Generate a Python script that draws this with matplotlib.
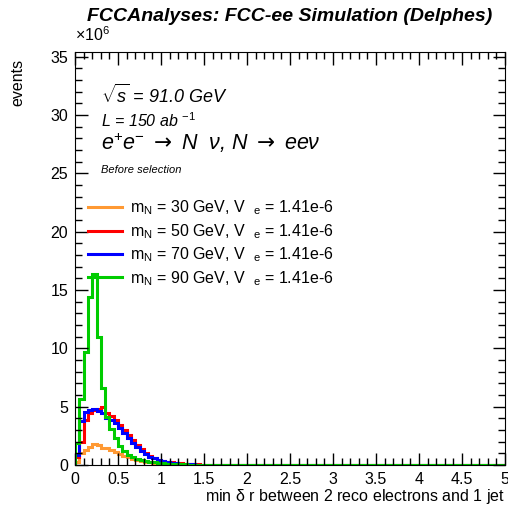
import matplotlib
matplotlib.use("Agg")
import matplotlib.pyplot as plt
from matplotlib.lines import Line2D
from matplotlib import ticker
import numpy as np

plt.rcParams["font.family"] = ["Liberation Sans", "DejaVu Sans"]
plt.rcParams["mathtext.fontset"] = "custom"
plt.rcParams["mathtext.rm"] = "Liberation Sans"
plt.rcParams["mathtext.it"] = "Liberation Sans:italic"
plt.rcParams["mathtext.bf"] = "Liberation Sans:bold"
plt.rcParams["mathtext.sf"] = "DejaVu Sans"

# binning: 100 bins of 0.05 between 0 and 5
bin_edges = np.linspace(0, 5, 101)

# events per bin (x 1e6); remaining bins ~0
m30 = [0.3, 1.0, 1.3, 1.57, 1.77, 1.71, 1.5, 1.43, 1.29, 1.14,
       0.91, 0.8, 0.66, 0.51, 0.43, 0.34, 0.29, 0.23, 0.17, 0.14,
       0.12, 0.1, 0.08, 0.07, 0.06, 0.05, 0.05, 0.04, 0.04, 0.03,
       0.03, 0.02, 0.02, 0.02, 0.01, 0.01, 0.01]
m50 = [0.7, 2.0, 3.9, 4.45, 4.7, 4.8, 4.95, 4.5, 4.2, 3.86,
       3.43, 3.0, 2.57, 2.14, 1.71, 1.34, 1.0, 0.77, 0.57, 0.43,
       0.34, 0.28, 0.22, 0.18, 0.14, 0.11, 0.08, 0.06, 0.05, 0.04,
       0.03, 0.02, 0.02, 0.01]
m70 = [0.86, 3.8, 4.55, 4.7, 4.8, 4.6, 4.45, 4.05, 3.86, 3.6,
       3.17, 2.74, 2.34, 1.89, 1.57, 1.2, 0.94, 0.71, 0.57, 0.43,
       0.34, 0.26, 0.2, 0.16, 0.12, 0.09, 0.07, 0.05, 0.04, 0.03,
       0.02, 0.02, 0.01]
m90 = [1.9, 5.7, 9.7, 14.4, 16.4, 11.0, 6.6, 4.1, 3.1, 2.3,
       1.6, 1.2, 0.9, 0.7, 0.55, 0.45, 0.38, 0.3, 0.25, 0.2,
       0.15, 0.12, 0.1, 0.08, 0.06, 0.05, 0.04, 0.03, 0.02, 0.02,
       0.01, 0.01]

masses = [30, 50, 70, 90]
series = [m30, m50, m70, m90]
colours = ["#ff9933", "#ff0000", "#0000ff", "#00cc00"]
coupling = "1.41e-6"


def pad(vals):
    out = np.zeros(len(bin_edges) - 1)
    out[: len(vals)] = vals
    return out


fig = plt.figure(figsize=(5.08, 5.15), dpi=100)
ax = fig.add_axes([75 / 508, 50 / 515, 430 / 508, 413 / 515])

handles = []
for m, vals, c in zip(masses, series, colours):
    ax.stairs(pad(vals), bin_edges, color=c, linewidth=2.2)
    handles.append(Line2D([], [], color=c, linewidth=2.2,
                          label=r"m$_{\rm N}$ = %d GeV, V  $_{\rm e}$ = %s" % (m, coupling)))

ax.set_xlim(0, 5)
ax.set_ylim(0, 35.4)
ax.xaxis.set_major_locator(ticker.MultipleLocator(0.5))
ax.xaxis.set_minor_locator(ticker.MultipleLocator(0.1))
ax.yaxis.set_major_locator(ticker.MultipleLocator(5))
ax.yaxis.set_minor_locator(ticker.MultipleLocator(1))
ax.xaxis.set_major_formatter(ticker.FuncFormatter(lambda v, p: "%g" % v))
ax.tick_params(which="both", direction="in", top=True, right=True, labelsize=11.5, pad=5)
ax.tick_params(which="major", length=9, width=1)
ax.tick_params(which="minor", length=5, width=1)

ax.set_xlabel(r"min $\rm\delta$ r between 2 reco electrons and 1 jet", fontsize=11.5, loc="right", labelpad=0)
fig.text(0.035, 0.885, "events", rotation=90, ha="center", va="top", fontsize=11.5)
fig.text(75 / 508, 1 - 44 / 515, r"$\times$10$^{6}$", ha="left", va="bottom", fontsize=11.5)

fig.suptitle("FCCAnalyses: FCC-ee Simulation (Delphes)", x=0.57, y=0.985,
             fontsize=14, fontweight="bold", fontstyle="italic")

ax.text(0.06, 0.896, r"$\sqrt{s}$ = 91.0 GeV", transform=ax.transAxes,
        fontsize=13, fontstyle="italic", va="center")
ax.text(0.06, 0.833, r"L = 150 ab $^{-1}$", transform=ax.transAxes,
        fontsize=11.5, fontstyle="italic", va="center")
ax.text(0.06, 0.78, r"e$^{+}$e$^{-}$ $\mathsf{\rightarrow}$ N  $\nu$, N $\mathsf{\rightarrow}$ ee$\nu$",
        transform=ax.transAxes, fontsize=15.5, fontstyle="italic", va="center")
ax.text(0.06, 0.715, "Before selection", transform=ax.transAxes,
        fontsize=8, fontstyle="italic", va="center")

ax.legend(handles=handles, loc="upper left", bbox_to_anchor=(0.03, 0.645), frameon=False,
          fontsize=11.5, handlelength=2.15, handletextpad=0.5, labelspacing=0.3, borderpad=0,
          borderaxespad=0)

fig.savefig("out.png", dpi=100)
